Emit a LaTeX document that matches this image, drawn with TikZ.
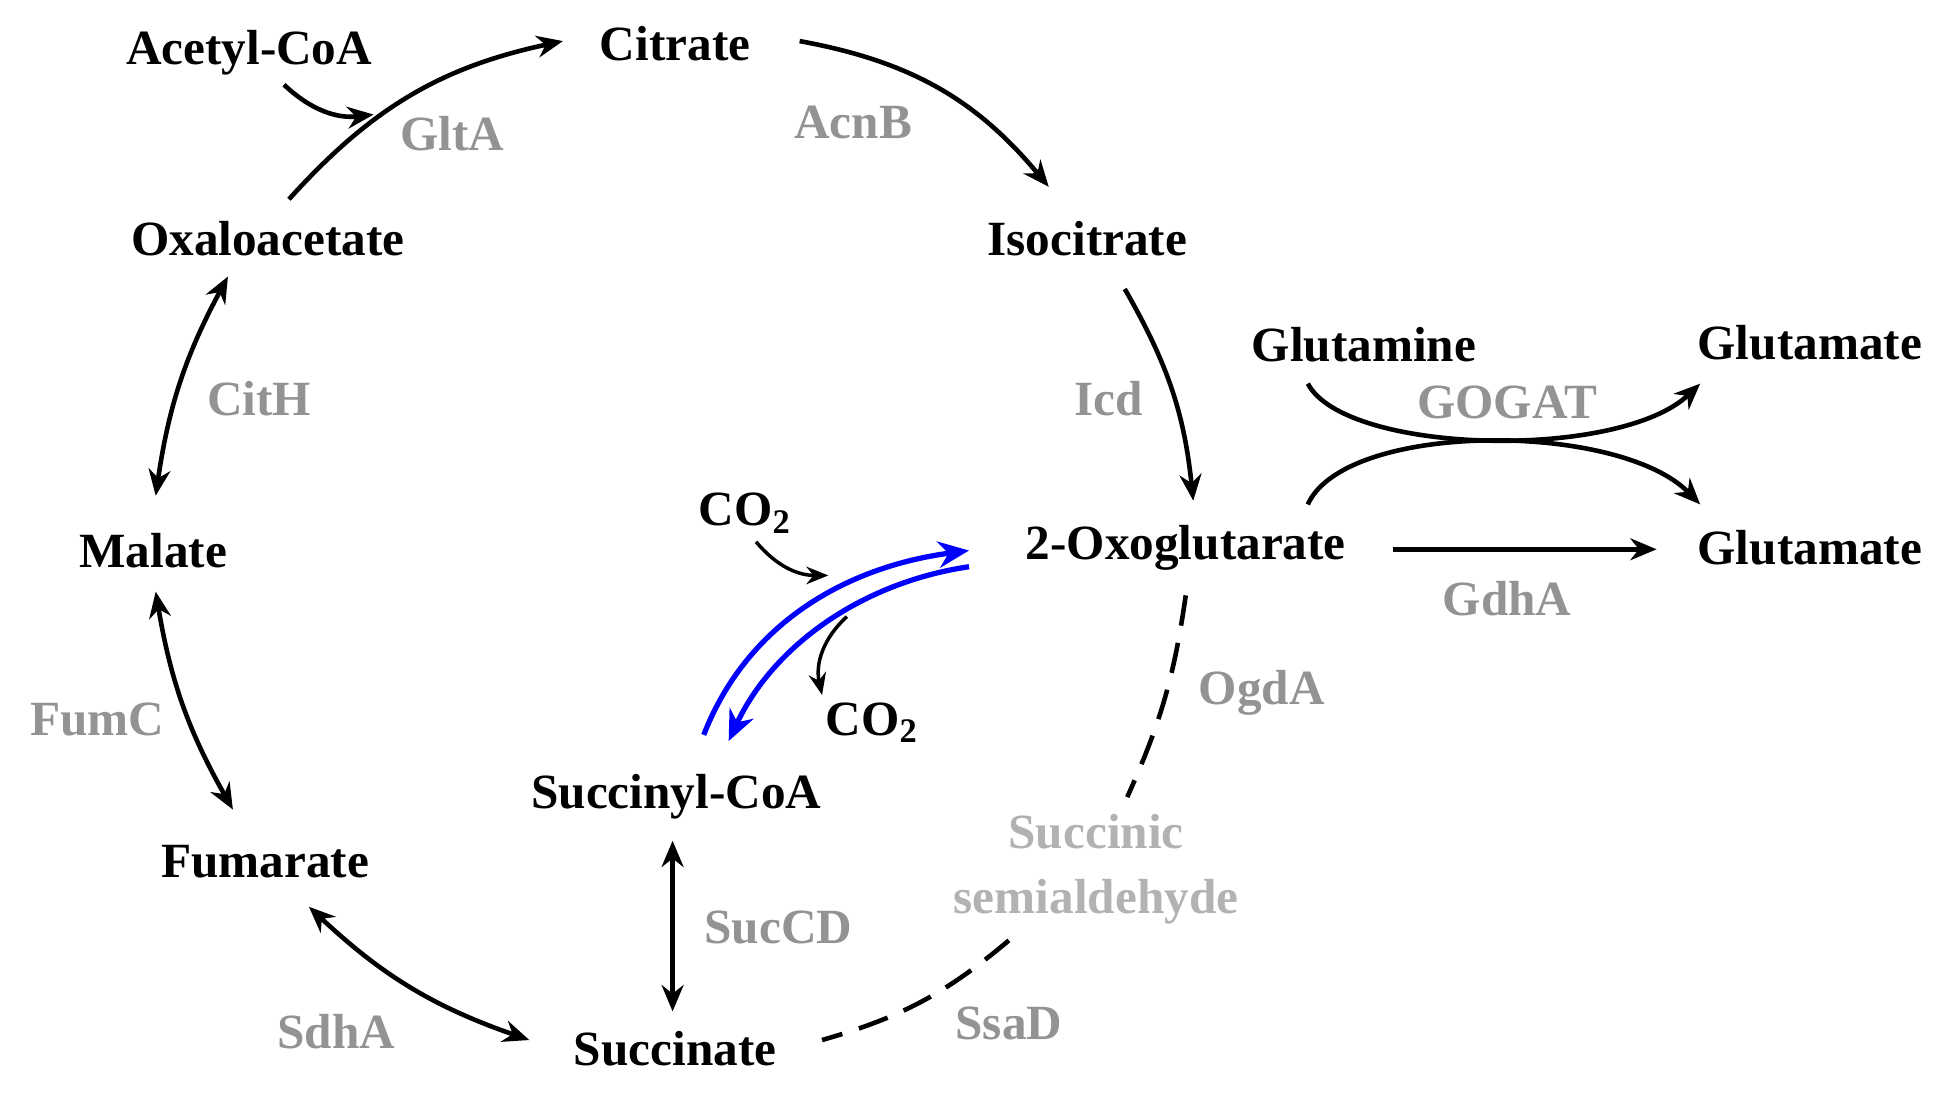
\documentclass[tikz,border=0pt]{standalone}
\usepackage{fontspec}
\setmainfont{Liberation Serif}
\usetikzlibrary{arrows.meta}
\begin{document}
\begin{tikzpicture}[x=0.02cm,y=-0.02cm,
 met/.style={font=\fontsize{22.5}{26}\selectfont\bfseries,inner sep=0},
 enz/.style={font=\fontsize{22.5}{26}\selectfont\bfseries,text=gray!85,inner sep=0},
 rx/.style={line width=2.1pt,-{Stealth[length=12pt,width=10pt]}},
 rr/.style={line width=2.1pt,{Stealth[length=12pt,width=10pt]}-{Stealth[length=12pt,width=10pt]}},
 sm/.style={line width=1.6pt,-{Stealth[length=10pt,width=8pt]}}]
\useasboundingbox (0,0) rectangle (1568,881);
\node[met] (acoa) at (200,42) {Acetyl-CoA};
\node[met] (cit) at (542,35) {Citrate};
\node[enz] (acnb) at (685,98) {AcnB};
\node[enz] (glta) at (363,107) {GltA};
\node[met] (oaa) at (215,192) {Oxaloacetate};
\node[met] (iso) at (873,192) {Isocitrate};
\node[met] (gln) at (1095,277) {Glutamine};
\node[met] (glu1) at (1453,275) {Glutamate};
\node[enz] (gogat) at (1210,323) {GOGAT};
\node[enz] (cith) at (208,320) {CitH};
\node[enz] (icd) at (890,320) {Icd};
\node[met] (mal) at (123,442) {Malate};
\node[met] (co2a) at (598,412) {CO$_\mathbf{2}$};
\node[met] (oxo) at (952,440) {2-Oxoglutarate};
\node[met] (glu2) at (1453,440) {Glutamate};
\node[enz] (gdha) at (1210,481) {GdhA};
\node[enz] (ogda) at (1013,556) {OgdA};
\node[enz] (fumc) at (78,578) {FumC};
\node[met] (co2b) at (700,580) {CO$_\mathbf{2}$};
\node[met] (scoa) at (543,640) {Succinyl-CoA};
\node[enz,text=gray!60,align=center,font=\fontsize{22.5}{30}\selectfont\bfseries] (ssa) at (880,698) {Succinic\\semialdehyde};
\node[met] (fum) at (213,692) {Fumarate};
\node[enz] (succd) at (625,745) {SucCD};
\node[enz] (sdha) at (270,828) {SdhA};
\node[enz] (ssad) at (810,822) {SsaD};
\node[met] (suc) at (542,842) {Succinate};

\coordinate (o1) at (232,160); \coordinate (c1) at (452,33);
\draw[rx] (o1) to[bend left=18] (c1);
\draw[rx] (228,68) to[bend right=25] (300,92);
\draw[rx] (642,33) to[bend left=20] (842,150);
\draw[rx] (903,232) to[bend left=12] (958,402);
\draw[rx] (1118,441) -- (1330,441);
\draw[rx] (1050,308) .. controls (1080,365) and (1300,370) .. (1365,308);
\draw[rx] (1050,405) .. controls (1080,338) and (1300,338) .. (1365,405);
\draw[line width=2.1pt,dash pattern=on 14pt off 8pt] (952,478) to[bend left=8] (905,640);
\draw[line width=2.1pt,dash pattern=on 14pt off 8pt] (810,755) to[bend left=12] (660,835);
\draw[blue,line width=2.4pt,-{Stealth[length=14pt,width=12pt]}] (565,590) .. controls (600,500) and (680,455) .. (778,442);
\draw[blue,line width=2.4pt,-{Stealth[length=14pt,width=12pt]}] (778,455) .. controls (690,468) and (620,520) .. (585,595);
\draw[sm] (607,435) to[bend right=25] (665,462);
\draw[sm] (680,495) to[bend right=30] (660,558);
\draw[rr] (540,675) -- (540,812);
\draw[rr] (425,835) to[bend left=12] (248,728);
\draw[rr] (187,650) to[bend left=10] (125,475);
\draw[rr] (125,398) to[bend left=10] (183,222);
\end{tikzpicture}
\end{document}
